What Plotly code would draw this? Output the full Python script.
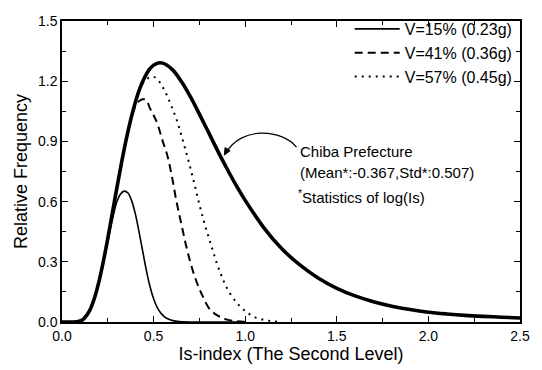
import plotly.graph_objects as go

# ---- data ----
x_chiba = [0.0, 0.05, 0.08, 0.1, 0.12, 0.15, 0.175, 0.2, 0.225, 0.25, 0.275, 0.3, 0.325, 0.35, 0.375,
           0.4, 0.425, 0.45, 0.475, 0.5, 0.525, 0.55, 0.6, 0.65, 0.7, 0.75, 0.8, 0.85, 0.9, 0.95,
           1.0, 1.1, 1.2, 1.3, 1.4, 1.5, 1.6, 1.7, 1.8, 1.9, 2.0, 2.1, 2.2, 2.3, 2.4, 2.5]
y_chiba = [0.0, 0.0, 0.001, 0.005, 0.017, 0.055, 0.113, 0.195, 0.299, 0.417, 0.544, 0.671, 0.794, 0.908, 1.008,
           1.094, 1.164, 1.217, 1.256, 1.280, 1.291, 1.290, 1.260, 1.201, 1.124, 1.036, 0.945, 0.853, 0.765, 0.682,
           0.606, 0.472, 0.365, 0.283, 0.218, 0.168, 0.130, 0.101, 0.079, 0.062, 0.049, 0.040, 0.033, 0.028, 0.024, 0.020]

x_v15 = [0.0, 0.05, 0.08, 0.1, 0.12, 0.15, 0.175, 0.2, 0.225, 0.25, 0.275, 0.3, 0.32, 0.34, 0.36, 0.38,
         0.4, 0.42, 0.44, 0.46, 0.48, 0.5, 0.52, 0.54, 0.56, 0.58, 0.6, 0.63, 0.66, 0.7, 1.0]
y_v15 = [0.0, 0.0, 0.001, 0.005, 0.017, 0.054, 0.11, 0.19, 0.29, 0.40, 0.51, 0.60, 0.638, 0.652, 0.643, 0.605,
         0.54, 0.452, 0.355, 0.26, 0.178, 0.116, 0.072, 0.044, 0.026, 0.015, 0.008, 0.003, 0.001, 0.0, 0.0]

x_v41 = [0.0, 0.05, 0.08, 0.1, 0.12, 0.15, 0.175, 0.2, 0.225, 0.25, 0.275, 0.3, 0.325, 0.35, 0.375, 0.4,
         0.42, 0.44, 0.46, 0.48, 0.5, 0.52, 0.55, 0.575, 0.6, 0.625, 0.65, 0.675, 0.7, 0.725, 0.75, 0.775,
         0.8, 0.825, 0.85, 0.875, 0.9, 0.95, 1.0]
y_v41 = [0.0, 0.0, 0.001, 0.005, 0.017, 0.055, 0.113, 0.195, 0.299, 0.417, 0.544, 0.671, 0.794, 0.906, 1.0, 1.075,
         1.10, 1.11, 1.106, 1.065, 1.03, 0.99, 0.90, 0.83, 0.725, 0.60, 0.495, 0.39, 0.30, 0.225, 0.165, 0.115,
         0.072, 0.048, 0.032, 0.021, 0.012, 0.004, 0.0]

x_v57 = [0.0, 0.05, 0.08, 0.1, 0.12, 0.15, 0.175, 0.2, 0.225, 0.25, 0.275, 0.3, 0.325, 0.35, 0.375, 0.4,
         0.425, 0.45, 0.475, 0.5, 0.525, 0.55, 0.575, 0.6, 0.625, 0.65, 0.675, 0.7, 0.725, 0.75, 0.775,
         0.8, 0.825, 0.85, 0.875, 0.9, 0.95, 1.0, 1.05, 1.1, 1.15, 1.2]
y_v57 = [0.0, 0.0, 0.001, 0.005, 0.017, 0.055, 0.113, 0.195, 0.299, 0.417, 0.544, 0.671, 0.794, 0.908, 1.008, 1.094,
         1.160, 1.200, 1.218, 1.222, 1.205, 1.17, 1.125, 1.07, 1.01, 0.935, 0.855, 0.77, 0.68, 0.585, 0.50,
         0.425, 0.35, 0.28, 0.22, 0.17, 0.10, 0.055, 0.025, 0.011, 0.004, 0.0]

legend_names = ["V=15% (0.23g)", "V=41% (0.36g)", "V=57% (0.45g)"]
x_ticks = [0.0, 0.5, 1.0, 1.5, 2.0, 2.5]
y_ticks = [0.0, 0.3, 0.6, 0.9, 1.2, 1.5]

FONT = "Liberation Sans, Arial, Helvetica, sans-serif"

fig = go.Figure()
fig.add_trace(go.Scatter(x=x_chiba, y=y_chiba, mode="lines", line=dict(color="black", width=3.6, shape="spline"),
                         showlegend=False, name="Chiba"))
fig.add_trace(go.Scatter(x=x_v15, y=y_v15, mode="lines", name=legend_names[0],
                         line=dict(color="black", width=1.6, shape="spline")))
fig.add_trace(go.Scatter(x=x_v41, y=y_v41, mode="lines", name=legend_names[1],
                         line=dict(color="black", width=2, dash="8px,5px", shape="spline")))
fig.add_trace(go.Scatter(x=x_v57, y=y_v57, mode="lines", name=legend_names[2],
                         line=dict(color="black", width=2, dash="2px,5px", shape="spline")))

axis_common = dict(showline=True, linecolor="black", linewidth=1.5, mirror="ticks", ticks="inside",
                   tickcolor="black", ticklen=6, tickwidth=1.2, showgrid=False, zeroline=False,
                   tickfont=dict(family=FONT, size=14, color="black"), tickformat=".1f")

fig.update_xaxes(range=[0, 2.5], tickvals=x_ticks,
                 minor=dict(dtick=0.25, ticks="inside", ticklen=4, tickcolor="black"),
                 title=dict(text="Is-index (The Second Level)", font=dict(family=FONT, size=18, color="black"),
                            standoff=2),
                 **axis_common)
fig.update_yaxes(range=[0, 1.5], tickvals=y_ticks,
                 minor=dict(dtick=0.15, ticks="inside", ticklen=4, tickcolor="black"),
                 title=dict(text="Relative Frequency", font=dict(family=FONT, size=18, color="black"),
                            standoff=6),
                 **axis_common)

fig.update_layout(
    width=542, height=370,
    margin=dict(l=62, r=15, t=14, b=43),
    paper_bgcolor="white", plot_bgcolor="white",
    font=dict(family=FONT, color="black"),
    legend=dict(x=0.995, xanchor="right", y=1.03, yanchor="top", bgcolor="rgba(0,0,0,0)",
                font=dict(family=FONT, size=16, color="black"), tracegroupgap=0, itemwidth=45),
)

ann_font = dict(family=FONT, size=15, color="black")
fig.add_annotation(x=1.29, y=0.848, xref="x", yref="y", text="Chiba Prefecture", showarrow=False,
                   xanchor="left", yanchor="middle", font=ann_font)
fig.add_annotation(x=1.29, y=0.743, xref="x", yref="y", text="(Mean*:-0.367,Std*:0.507)", showarrow=False,
                   xanchor="left", yanchor="middle", font=ann_font)
fig.add_annotation(x=1.275, y=0.623, xref="x", yref="y", text="<sup>*</sup>Statistics of log(Is)", showarrow=False,
                   xanchor="left", yanchor="middle", font=ann_font)

# curved leader line with arrowhead
fig.add_shape(type="path", xref="x", yref="y",
              path="M 1.28,0.872 C 1.2,0.96 0.98,0.98 0.893,0.84",
              line=dict(color="black", width=1.2))
fig.add_shape(type="path", xref="x", yref="y",
              path="M 0.886,0.832 L 0.918,0.854 L 0.890,0.869 Z",
              line=dict(color="black", width=1), fillcolor="black")

fig.write_html("out.html")
